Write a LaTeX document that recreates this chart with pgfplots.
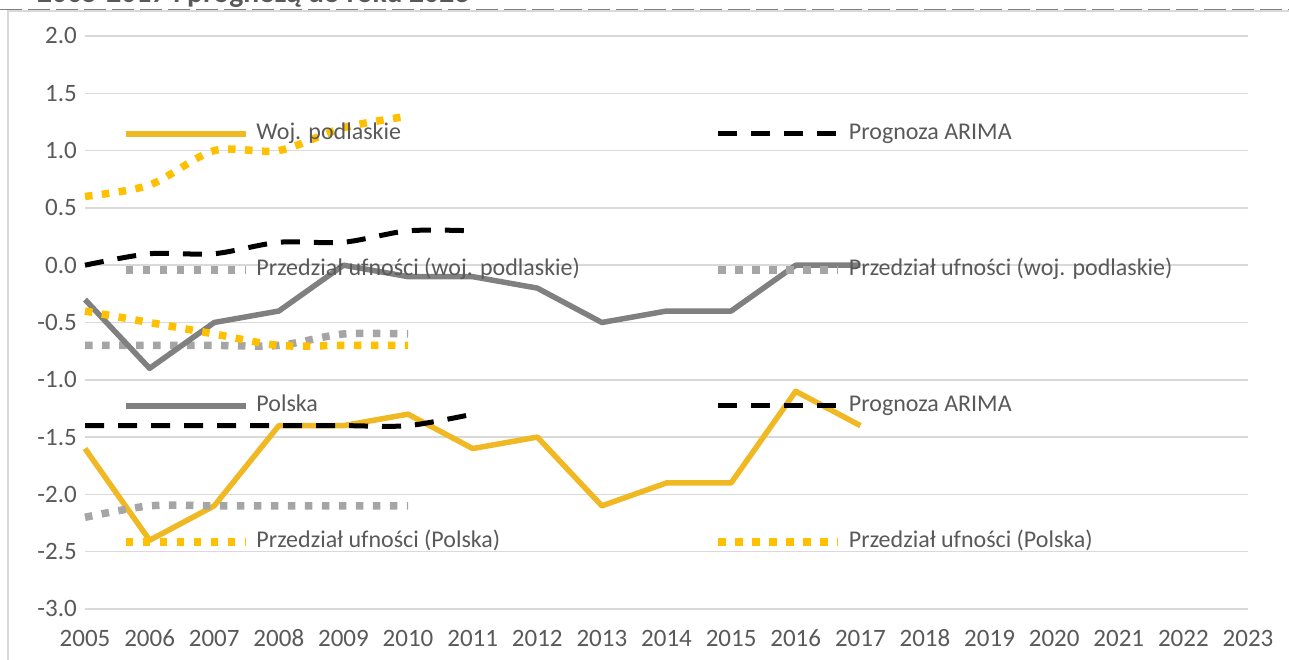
\documentclass[border=0pt]{standalone}
\usepackage{graphicx}
\usepackage{pgfplots}
\pgfplotsset{compat=1.18}
\usepackage{fontspec}
\setmainfont{Carlito}

\definecolor{podlaskie}{RGB}{240,185,35}
\definecolor{ciyellow}{RGB}{255,192,0}
\definecolor{polska}{RGB}{128,128,128}
\definecolor{cigray}{RGB}{165,165,165}
\definecolor{txt}{RGB}{89,89,89}
\definecolor{gridgray}{RGB}{217,217,217}

\pgfplotsset{
  solidline/.style={line width=5.5bp, line join=round, line cap=butt},
  arima/.style={black, line width=5bp, dash pattern=on 19bp off 14bp, line cap=butt, smooth, tension=0.5},
  ciline/.style={line width=7.5bp, dash pattern=on 7.5bp off 9.5bp, line cap=butt, smooth, tension=0.5},
}

\begin{document}
\begin{tikzpicture}[x=1bp,y=1bp]
\clip (0,0) rectangle (1289,660);
% chart frame and the title box edge above it
\draw[gridgray, line width=1.5bp] (8,-5) -- (8,649) -- (1300,649);
\draw[polska, line width=1.5bp, dash pattern=on 22bp off 6bp] (0,650.5) -- (1300,650.5);
\node[anchor=base west, inner sep=0pt, text=txt, font=\bfseries\fontsize{26bp}{30bp}\selectfont]
  at (37,657) {\resizebox{432bp}{!}{2005-2017 i prognozą do roku 2023}};

\begin{axis}[
  at={(85bp,51bp)}, anchor=south west,
  scale only axis, width=1163bp, height=573bp,
  xmin=2005, xmax=2023, ymin=-3, ymax=2,
  xtick={2005,2006,2007,2008,2009,2010,2011,2012,2013,2014,2015,2016,2017,2018,2019,2020,2021,2022,2023},
  xticklabels={2005,2006,2007,2008,2009,2010,2011,2012,2013,2014,2015,2016,2017,2018,2019,2020,2021,2022,2023},
  ytick={-3,-2.5,-2,-1.5,-1,-0.5,0,0.5,1,1.5,2},
  yticklabels={-3.0,-2.5,-2.0,-1.5,-1.0,-0.5,0.0,0.5,1.0,1.5,2.0},
  axis line style={draw=none},
  major tick length=0pt, tick style={draw=none},
  ymajorgrids, grid style={gridgray, line width=1.5bp},
  xticklabel style={anchor=base, inner sep=0pt, yshift=-38bp, text=txt, font=\fontsize{25bp}{30bp}\selectfont},
  yticklabel style={anchor=east, inner sep=0pt, xshift=-8bp, text height=16bp, text depth=0pt, text=txt, font=\fontsize{25bp}{30bp}\selectfont},
  clip=false,
  legend columns=2,
  legend cell align=left,
  legend style={at={(0.0318,0.8482)}, anchor=north west, draw=none, fill=none,
    inner sep=0pt, outer sep=0pt, row sep=114bp,
    nodes={inner sep=0pt, text height=17bp, text depth=5bp, text=txt, font=\fontsize{24bp}{28bp}\selectfont},
    /tikz/every odd column/.style={column sep=7bp}},
  legend image code/.code={\draw[#1] (0bp,0bp) -- (120bp,0bp);},
]
% Woj. podlaskie
\addplot[podlaskie, solidline] coordinates {
  (2005,-1.6) (2006,-2.4) (2007,-2.1) (2008,-1.4) (2009,-1.4) (2010,-1.3) (2011,-1.6)
  (2012,-1.5) (2013,-2.1) (2014,-1.9) (2015,-1.9) (2016,-1.1) (2017,-1.4)};
\addlegendentry{\makebox[458bp][l]{Woj. podlaskie}}
% Prognoza ARIMA (woj. podlaskie)
\addplot[arima] coordinates {
  (2005,-1.4) (2006,-1.4) (2007,-1.4) (2008,-1.4) (2009,-1.4) (2010,-1.4) (2011,-1.3)};
\addlegendentry{Prognoza ARIMA}
% Przedział ufności (woj. podlaskie)
\addplot[cigray, ciline] coordinates {
  (2005,-2.2) (2006,-2.1) (2007,-2.1) (2008,-2.1) (2009,-2.1) (2010,-2.1)};
\addlegendentry{\makebox[458bp][l]{Przedział ufności (woj. podlaskie)}}
\addplot[cigray, ciline] coordinates {
  (2005,-0.7) (2006,-0.7) (2007,-0.7) (2008,-0.7) (2009,-0.6) (2010,-0.6)};
\addlegendentry{Przedział ufności (woj. podlaskie)}
% Polska
\addplot[polska, solidline] coordinates {
  (2005,-0.3) (2006,-0.9) (2007,-0.5) (2008,-0.4) (2009,0.0) (2010,-0.1) (2011,-0.1)
  (2012,-0.2) (2013,-0.5) (2014,-0.4) (2015,-0.4) (2016,0.0) (2017,0.0)};
\addlegendentry{\makebox[458bp][l]{Polska}}
% Prognoza ARIMA (Polska)
\addplot[arima] coordinates {
  (2005,0.0) (2006,0.1) (2007,0.1) (2008,0.2) (2009,0.2) (2010,0.3) (2011,0.3)};
\addlegendentry{Prognoza ARIMA}
% Przedział ufności (Polska)
\addplot[ciyellow, ciline] coordinates {
  (2005,0.6) (2006,0.7) (2007,1.0) (2008,1.0) (2009,1.2) (2010,1.3)};
\addlegendentry{\makebox[458bp][l]{Przedział ufności (Polska)}}
\addplot[ciyellow, ciline] coordinates {
  (2005,-0.4) (2006,-0.5) (2007,-0.6) (2008,-0.7) (2009,-0.7) (2010,-0.7)};
\addlegendentry{Przedział ufności (Polska)}
\end{axis}
\end{tikzpicture}
\end{document}
